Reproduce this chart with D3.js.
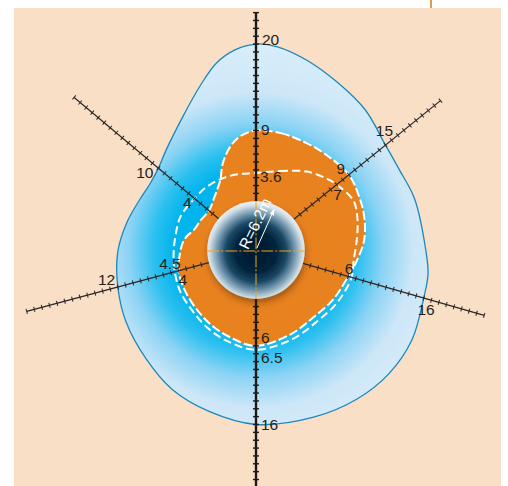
<!DOCTYPE html>
<html>
<head>
<meta charset="utf-8">
<script src="https://cdn.jsdelivr.net/npm/d3@7"></script>
<style>
  html, body { margin: 0; padding: 0; background: #ffffff; }
  svg { display: block; }
  text { font-family: "Liberation Sans", Arial, Helvetica, sans-serif; }
</style>
</head>
<body>
<svg id="chart" width="508" height="486"></svg>
<script>
// Tunnel radius (m) and the distance range covered by the measuring axes (m from the wall)
const tunnelRadius = 6.2;
const axisMax = 24;

// Measuring axes, compass bearing in degrees (0 = up, clockwise)
const axisAngles = [0, 51, 106, 180, 255, 310];

// Outer limit of the disturbed zone: [bearing, distance from tunnel wall in m]
const outerZone = [
  [0, 20], [6, 19.8], [15, 18.8], [26, 17.5], [38, 16.4], [51, 15], [61, 14.7],
  [72, 15], [90, 15.4], [98, 15.9], [106, 16], [120, 16.7], [133, 16.9],
  [146, 16.7], [161, 16.3], [180, 16], [196, 15.2], [211, 14.5], [225, 13.5],
  [241, 12.7], [255, 12], [269, 11.4], [282, 10.6], [294, 9.9], [302, 9.7],
  [310, 10], [318, 10.9], [331, 13.1], [341, 15.8], [348, 18.1], [354, 19.4]
];

// Limit of the inner (plastic) zone
const innerZone = [
  [0, 9], [12, 9], [25, 8.85], [37, 8.85], [51, 9], [62, 8.6], [73, 8.2],
  [85, 7.6], [96, 6.7], [106, 6], [123, 5.45], [140, 5.05], [158, 5.4],
  [180, 6], [196, 5.4], [211, 4.9], [226, 4.45], [241, 4.2], [255, 4],
  [267, 3.5], [275, 3.2], [281, 2.8], [288, 2.1], [298, 1.8], [306, 1.6],
  [313, 1.7], [320, 2.2], [327, 2.9], [333, 3.8], [339, 5.6], [346, 7.35], [352, 8.4]
];

// Second measured limit (dashed curve)
const dashedLimit = [
  [0, 3.6], [17, 4.3], [33, 5.7], [45, 6.6], [51, 7], [63, 7.7], [73, 7.3],
  [84, 6.7], [96, 6.3], [106, 6.45], [123, 6.1], [140, 5.75], [158, 6.05],
  [180, 6.5], [196, 6.0], [211, 5.5], [226, 5.0], [241, 4.8], [255, 4.5],
  [267, 4.3], [279, 4.2], [294, 4.3], [310, 4], [320, 4.0], [331, 3.9], [344, 3.75]
];

// Values written along the axes
const labelAxes   = [0, 0, 0, 180, 180, 180, 310, 310, 51, 51, 51, 255, 255, 255, 106, 106];
const labelValues = [20, 9, 3.6, 6, 6.5, 16, 10, 4, 15, 9, 7, 12, 4.5, 4, 6, 16];

const svg = d3.select("#chart");
const W = 508, H = 486;
const cx = 256, cy = 250;
const pxPerMetre = 7.86;

// distance from the wall (m) -> pixel radius from tunnel centre
const r = d3.scaleLinear()
  .domain([0, axisMax])
  .range([tunnelRadius * pxPerMetre, (tunnelRadius + axisMax) * pxPerMetre]);
const rad = d => d * Math.PI / 180;
const polar = (ang, rr) => [cx + rr * Math.sin(rad(ang)), cy - rr * Math.cos(rad(ang))];

const defs = svg.append("defs");

// Blue zone shading, centred on the tunnel (coordinates of the translated plot group)
const blueGrad = defs.append("radialGradient")
  .attr("id", "blueGrad").attr("gradientUnits", "userSpaceOnUse")
  .attr("cx", 0).attr("cy", 0).attr("r", 205);
[[0.0, "#00b2eb"], [0.40, "#00b4ec"], [0.50, "#2cc0f0"], [0.62, "#8ad3f4"],
 [0.77, "#cde7f8"], [1.0, "#d9edf9"]]
  .forEach(([o, c]) => blueGrad.append("stop").attr("offset", o).attr("stop-color", c));

const tunnelGrad = defs.append("radialGradient")
  .attr("id", "tunnelGrad").attr("cx", "50%").attr("cy", "52%").attr("r", "52%");
[[0.0, "#001a2e"], [0.40, "#02223b"], [0.60, "#1a4866"], [0.78, "#7a9db3"],
 [0.92, "#d3e0e7"], [1.0, "#eef3f6"]]
  .forEach(([o, c]) => tunnelGrad.append("stop").attr("offset", o).attr("stop-color", c));

const shadow = defs.append("filter").attr("id", "shadow")
  .attr("x", "-30%").attr("y", "-30%").attr("width", "160%").attr("height", "170%");
shadow.append("feDropShadow").attr("dx", 1).attr("dy", 4).attr("stdDeviation", 3)
  .attr("flood-color", "#4a2000").attr("flood-opacity", 0.45);

defs.append("marker").attr("id", "arrow").attr("viewBox", "0 0 10 10")
  .attr("refX", 9).attr("refY", 5).attr("markerWidth", 7).attr("markerHeight", 7)
  .attr("orient", "auto")
  .append("path").attr("d", "M0,1.5 L10,5 L0,8.5 Z").attr("fill", "#ffffff");

// Panel background
svg.append("rect").attr("x", 14).attr("y", 8).attr("width", 487).attr("height", H - 8)
  .attr("fill", "#f9dfc5");
svg.append("line").attr("x1", 431).attr("x2", 431).attr("y1", 0).attr("y2", 8)
  .attr("stroke", "#d99c52").attr("stroke-width", 2);

const zoneLine = d3.lineRadial()
  .angle(p => rad(p[0]))
  .radius(p => r(p[1]))
  .curve(d3.curveCatmullRomClosed.alpha(0.5));

const plot = svg.append("g").attr("transform", `translate(${cx},${cy})`);

plot.append("path").datum(outerZone).attr("d", zoneLine)
  .attr("fill", "url(#blueGrad)").attr("stroke", "#1a88bf").attr("stroke-width", 1.3);

plot.append("path").datum(innerZone).attr("d", zoneLine)
  .attr("fill", "#e8821f").attr("stroke", "#ffffff").attr("stroke-width", 2)
  .attr("stroke-dasharray", "9,3");

plot.append("path").datum(dashedLimit).attr("d", zoneLine)
  .attr("fill", "none").attr("stroke", "#ffffff").attr("stroke-width", 2)
  .attr("stroke-dasharray", "8,4");

// Axes with metre ticks
const tickValues = r.ticks(axisMax).filter(t => t > 0);
axisAngles.forEach(a => {
  const main = (a === 0 || a === 180);
  const g = plot.append("g").attr("transform", `rotate(${a})`);
  g.append("line").attr("x1", 0).attr("x2", 0)
    .attr("y1", -r(0)).attr("y2", -r(axisMax))
    .attr("stroke", main ? "#1e1a1a" : "#2b2626")
    .attr("stroke-width", main ? 2.4 : 1.2);
  g.selectAll("line.tick").data(tickValues).join("line").attr("class", "tick")
    .attr("x1", main ? -3 : -2.6).attr("x2", main ? 3 : 2.6)
    .attr("y1", d => -r(d)).attr("y2", d => -r(d))
    .attr("stroke", main ? "#1e1a1a" : "#2b2626")
    .attr("stroke-width", main ? 1.4 : 1);
});

// Tunnel section
plot.append("circle").attr("r", r(0)).attr("fill", "url(#tunnelGrad)")
  .attr("filter", "url(#shadow)");

// Centre lines
plot.append("line").attr("x1", -r(0)).attr("x2", r(0)).attr("y1", 1).attr("y2", 1)
  .attr("stroke", "#f2a812").attr("stroke-width", 1).attr("stroke-dasharray", "12,2,2,2");
plot.append("line").attr("x1", 0).attr("x2", 0).attr("y1", -r(0)).attr("y2", r(0))
  .attr("stroke", "#f2a812").attr("stroke-width", 1).attr("stroke-dasharray", "12,2,2,2");

// Radius arrow and label
const arrowAng = 24;
plot.append("line")
  .attr("x1", 2 * Math.sin(rad(arrowAng))).attr("y1", -2 * Math.cos(rad(arrowAng)))
  .attr("x2", (r(0) - 4) * Math.sin(rad(arrowAng))).attr("y2", -(r(0) - 4) * Math.cos(rad(arrowAng)))
  .attr("stroke", "#ffffff").attr("stroke-width", 1).attr("marker-end", "url(#arrow)");
plot.append("text").text(`R=${tunnelRadius}m`)
  .attr("transform", `translate(4,-24) rotate(-64)`)
  .attr("text-anchor", "middle").attr("font-size", 15.5).attr("fill", "#ffffff");

// Axis value labels: [dx, dy, anchor] offsets from the point where the value sits on its axis
const labelPlacement = [
  [6, 0.5, "start"], [5, 4, "start"], [4, 9, "start"],
  [5, -2.5, "start"], [5, 13, "start"], [5, 5.5, "start"],
  [-5, 9.5, "end"], [-3, 10, "end"],
  [-1, -9, "middle"], [-8, -1, "middle"], [1, 15.5, "middle"],
  [-2.6, -1.6, "end"], [-4.8, -3, "middle"], [4.2, 14, "middle"],
  [1, -2.7, "middle"], [2.3, 17.3, "middle"]
];
svg.append("g").selectAll("text").data(labelValues).join("text")
  .each(function (v, i) {
    const [x, y] = polar(labelAxes[i], r(v));
    const [dx, dy, anchor] = labelPlacement[i];
    d3.select(this).attr("x", x + dx).attr("y", y + dy).attr("text-anchor", anchor);
  })
  .text(v => String(v))
  .attr("font-size", 15.5).attr("fill", "#262222");
</script>
</body>
</html>
